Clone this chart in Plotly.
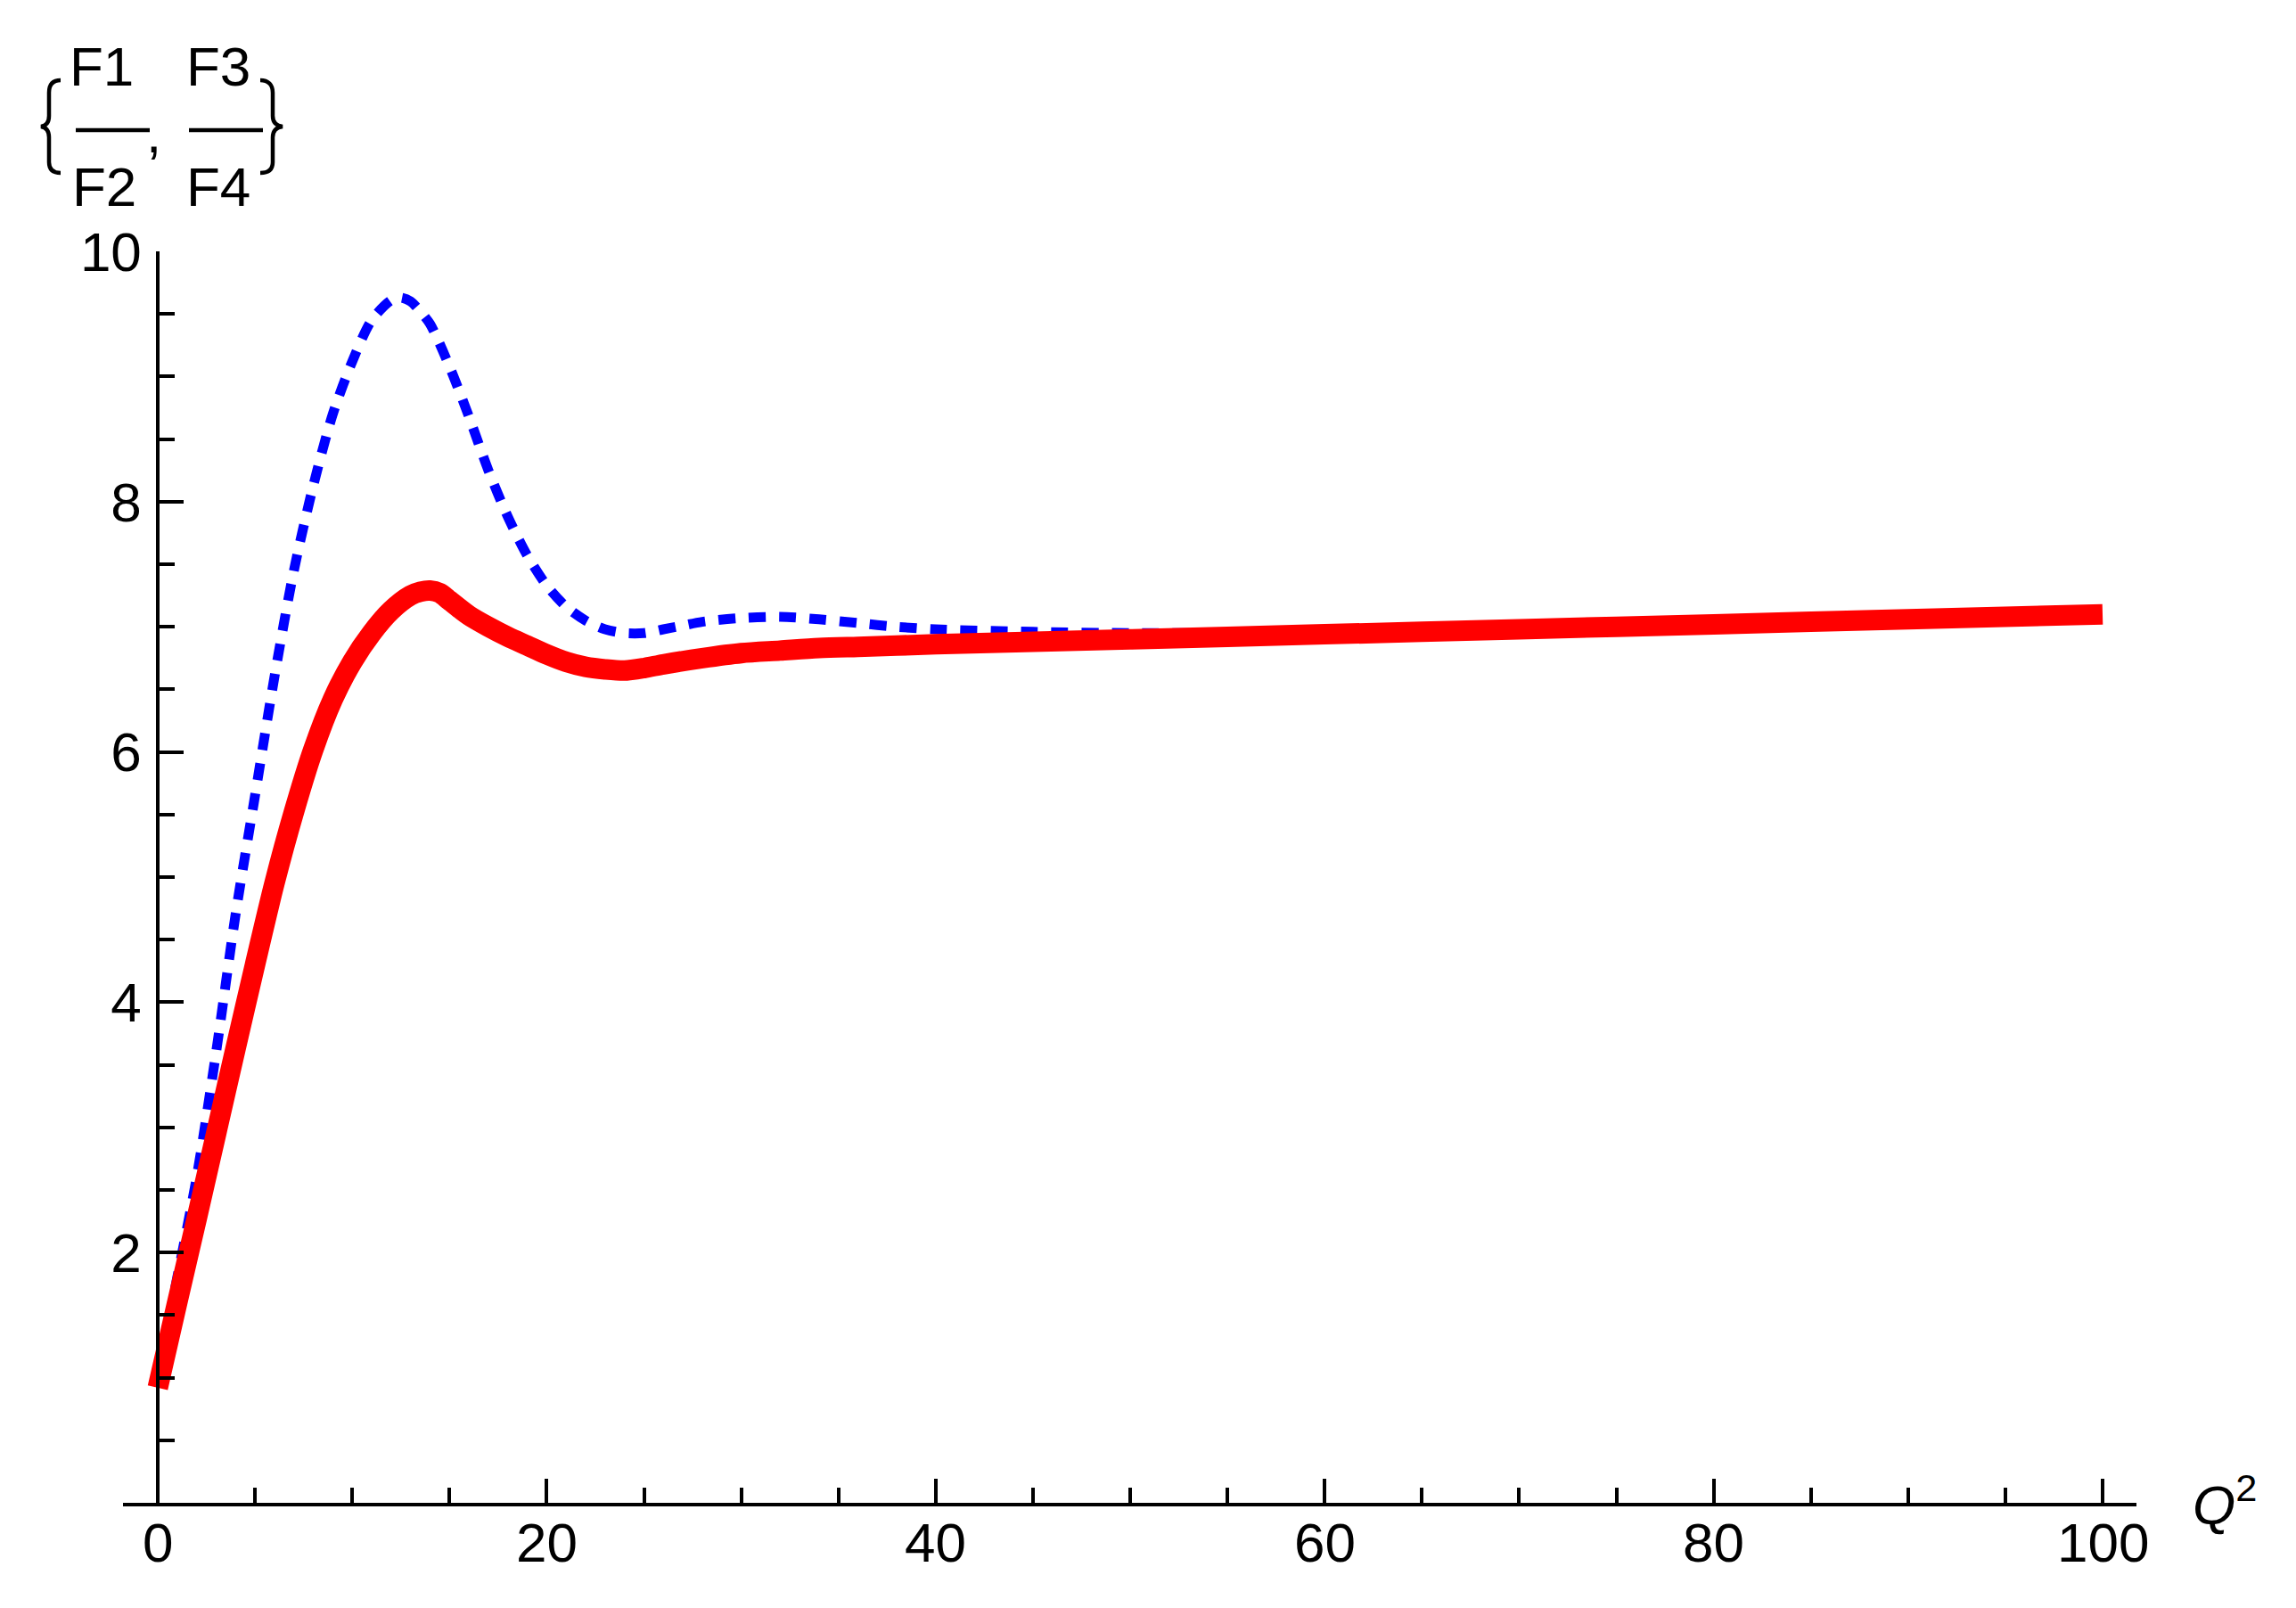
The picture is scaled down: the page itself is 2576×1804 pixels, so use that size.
import plotly.graph_objects as go

# ---------------- data ----------------
q2_blue = [0, 1, 2, 3, 4, 5, 6, 7, 8, 9, 10, 11, 12, 12.5, 13, 13.5, 14, 15, 16, 17, 18, 19, 20,
           21, 22, 23, 24, 25, 26, 27, 28, 30, 32, 34, 36, 38, 40, 45, 50, 55, 60, 70, 80, 90, 100]
f3_f4 = [1.0, 1.8, 2.6, 3.6, 4.7, 5.65, 6.6, 7.45, 8.13, 8.7, 9.12, 9.45, 9.61, 9.63, 9.6, 9.52,
         9.42, 9.08, 8.68, 8.25, 7.88, 7.57, 7.33, 7.16, 7.05, 6.98, 6.95, 6.95, 6.98, 7.01, 7.04,
         7.07, 7.08, 7.06, 7.03, 7.0, 6.98, 6.96, 6.95, 6.95, 6.95, 6.98, 7.02, 7.06, 7.1]

q2_red = [0, 1, 2, 3, 4, 5, 6, 7, 8, 9, 10, 11, 12, 13, 13.5, 14, 14.5, 15, 16, 17, 18, 19, 20,
          21, 22, 23, 24, 25, 26, 28, 30, 32, 34, 36, 38, 40, 50, 60, 70, 80, 90, 100]
f1_f2 = [0.92, 1.6, 2.27, 2.95, 3.63, 4.3, 4.95, 5.52, 6.02, 6.42, 6.72, 6.95, 7.13, 7.25, 7.28,
         7.29, 7.27, 7.21, 7.09, 7.0, 6.92, 6.85, 6.78, 6.72, 6.68, 6.66, 6.65, 6.67, 6.7, 6.75,
         6.79, 6.81, 6.83, 6.84, 6.85, 6.86, 6.9, 6.94, 6.98, 7.02, 7.06, 7.1]

x_major = [0, 20, 40, 60, 80, 100]
x_labels = ["0", "20", "40", "60", "80", "100"]
y_major = [2, 4, 6, 8, 10]
y_labels = ["2", "4", "6", "8", "10"]

# ---------------- layout geometry (page pixels; body margin 8px) ----------------
OFF = 8
WF, HF = 2576 - 2 * OFF, 1804 - 2 * OFF
L, R, T, B = 138, 2397, 282, 1686
PW, PH = R - L, B - T


def px(x):
    return (x - L) / PW


def py(y):
    return (B - y) / PH


FONT = "Liberation Sans, Arial, sans-serif"

fig = go.Figure()
fig.add_trace(go.Scatter(
    x=q2_blue, y=f3_f4, mode="lines", name="F3/F4",
    line=dict(color="rgb(0,0,255)", width=11, dash="19px,15px", shape="spline", smoothing=0.8),
    showlegend=False))
fig.add_trace(go.Scatter(
    x=q2_red, y=f1_f2, mode="lines", name="F1/F2",
    line=dict(color="rgb(255,0,0)", width=23, shape="spline", smoothing=0.8),
    showlegend=False))

axis_common = dict(showgrid=False, zeroline=False, showline=True, linecolor="black",
                   linewidth=3.5, ticks="inside", tickcolor="black", tickwidth=3.5,
                   ticklen=27, tickfont=dict(family=FONT, size=62, color="black"))

fig.update_layout(
    width=WF, height=HF,
    margin=dict(l=L - OFF, r=(OFF + WF) - R, t=T - OFF, b=(OFF + HF) - B, pad=0),
    paper_bgcolor="white", plot_bgcolor="white",
    xaxis=dict(range=[-39 / 21.82, (R - 177) / 21.82], tickmode="array",
               tickvals=x_major, ticktext=x_labels, anchor="y", showticklabels=False,
               minor=dict(ticks="inside", dtick=5, tick0=0, ticklen=17,
                          tickwidth=3.5, tickcolor="black"),
               **axis_common),
    yaxis=dict(range=[0, 10], tickmode="array", tickvals=y_major, ticktext=y_labels,
               anchor="free", position=px(177), ticklabelstandoff=4,
               minor=dict(ticks="inside", dtick=0.5, tick0=0, ticklen=17,
                          tickwidth=3.5, tickcolor="black"),
               **axis_common),
)

# x tick labels placed on the x scale, slightly closer to the axis than plotly's default
for v, t in zip(x_major, x_labels):
    fig.add_annotation(x=v, y=py(1730), xref="x", yref="paper", text=t, showarrow=False,
                       xanchor="center", yanchor="middle",
                       font=dict(family=FONT, size=62, color="black"))

# axis label Q^2
fig.add_annotation(x=px(2458), y=py(1684), xref="paper", yref="paper",
                   text="<i>Q</i><sup>2</sup>", showarrow=False,
                   xanchor="left", yanchor="middle",
                   font=dict(family=FONT, size=62, color="black"))

# y label: {F1/F2, F3/F4}
for txt, cx, cy in [("F1", 114, 74), ("F2", 117, 210), ("F3", 245, 74), ("F4", 245, 210)]:
    fig.add_annotation(x=px(cx), y=py(cy), xref="paper", yref="paper", text=txt,
                       showarrow=False, xanchor="center", yanchor="middle",
                       font=dict(family=FONT, size=62, color="black"))
fig.add_annotation(x=px(172), y=py(150), xref="paper", yref="paper", text=",",
                   showarrow=False, xanchor="center", yanchor="middle",
                   font=dict(family=FONT, size=62, color="black"))

for x0, x1 in [(85, 168), (212, 295)]:
    fig.add_shape(type="line", xref="paper", yref="paper",
                  x0=px(x0), x1=px(x1), y0=py(146), y1=py(146),
                  line=dict(color="black", width=4.5))


def path_px(cmds):
    out = []
    for c in cmds:
        if isinstance(c, str):
            out.append(c)
        else:
            out.append(f"{px(c[0]):.6f},{py(c[1]):.6f}")
    return " ".join(out)


left_brace = ["M", (68, 90), "C", (59, 90), (55, 95), (55, 104), "L", (55, 130),
              "C", (55, 137), (52, 141), (46, 142), "C", (52, 143), (55, 147), (55, 154),
              "L", (55, 182), "C", (55, 190), (59, 194), (68, 194)]
right_brace = ["M", (292, 90), "C", (301, 90), (306, 95), (306, 104), "L", (306, 130),
               "C", (306, 137), (310, 141), (317, 142), "C", (310, 143), (306, 147), (306, 154),
               "L", (306, 182), "C", (306, 190), (301, 194), (292, 194)]
for br in (left_brace, right_brace):
    fig.add_shape(type="path", xref="paper", yref="paper", path=path_px(br),
                  line=dict(color="black", width=4.5))

fig.write_html("out.html")
